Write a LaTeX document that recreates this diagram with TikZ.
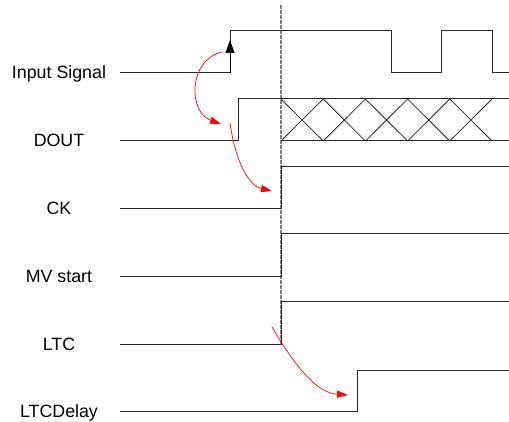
\documentclass[tikz,border=0pt]{standalone}
\usepackage{fontspec}
\setmainfont{Liberation Sans}
\usetikzlibrary{arrows.meta}

\tikzset{
  wave/.style={draw=black!85,line width=1pt},
  sig/.style={anchor=base,font=\fontsize{17.8}{20}\selectfont},
  cause/.style={draw=red,line width=0.7pt,-{Triangle[length=11pt,width=7pt]}}
}

\begin{document}
\begin{tikzpicture}[x=1pt,y=-1pt]
    \useasboundingbox (0,0) rectangle (509,422);

    \draw[draw=gray,line width=1.2pt,dash pattern=on 4pt off 1pt] (281,5) -- (281,344) ;

    \node[sig] (in) at (59,79) {Input Signal} ;
    \node[sig] (dout) at (59,147) {DOUT} ;
    \node[sig] (ck) at (59,215) {CK} ;
    \node[sig] (mv) at (59,283) {MV start} ;
    \node[sig] (ltc) at (59,350) {LTC} ;
    \node[sig] (ltcd) at (59,417) {LTCDelay} ;

    % input signal
    \draw[wave] (120,73) -- (230,73) -- (230,31) -- (391,31) -- (391,73) -- (441,73)
      -- (441,31) -- (492,31) -- (492,73) -- (509,73) ;
    \draw[black,line width=1pt,-{Triangle[length=13pt,width=9pt]}] (230,73) -- (230,40) ;

    % dout
    \draw[wave] (120,141) -- (238,141) -- (238,99) -- (509,99) ;
    \draw[wave] (281,141) -- (509,141) ;
    \foreach \k in {0,...,4}
      \draw[draw=black!85,line width=0.8pt] (281+42.2*\k,99) -- (281+42.2*\k+42.2,141)
        (281+42.2*\k,141) -- (281+42.2*\k+42.2,99) ;

    % ck, mv start, ltc
    \draw[wave] (120,209) -- (281,209) -- (281,167) -- (509,167) ;
    \draw[wave] (120,277) -- (281,277) -- (281,234) -- (509,234) ;
    \draw[wave] (120,344) -- (281,344) -- (281,302) -- (509,302) ;

    % ltc delay
    \draw[wave] (120,411) -- (357,411) -- (357,370) -- (509,370) ;

    \coordinate (a1) at (222,52) ;
    \coordinate (b1) at (221,124) ;
    \coordinate (a2) at (230,123) ;
    \coordinate (b2) at (272,191) ;
    \coordinate (a3) at (272,327) ;
    \coordinate (b3) at (348,395) ;

    \draw[cause] (a1) .. controls (188,60) and (188,112) .. (b1) ;
    \draw[cause] (a2) .. controls (236,165) and (250,186) .. (b2) ;
    \draw[cause] (a3) .. controls (300,375) and (320,393) .. (b3) ;

  \end{tikzpicture}
\end{document}
